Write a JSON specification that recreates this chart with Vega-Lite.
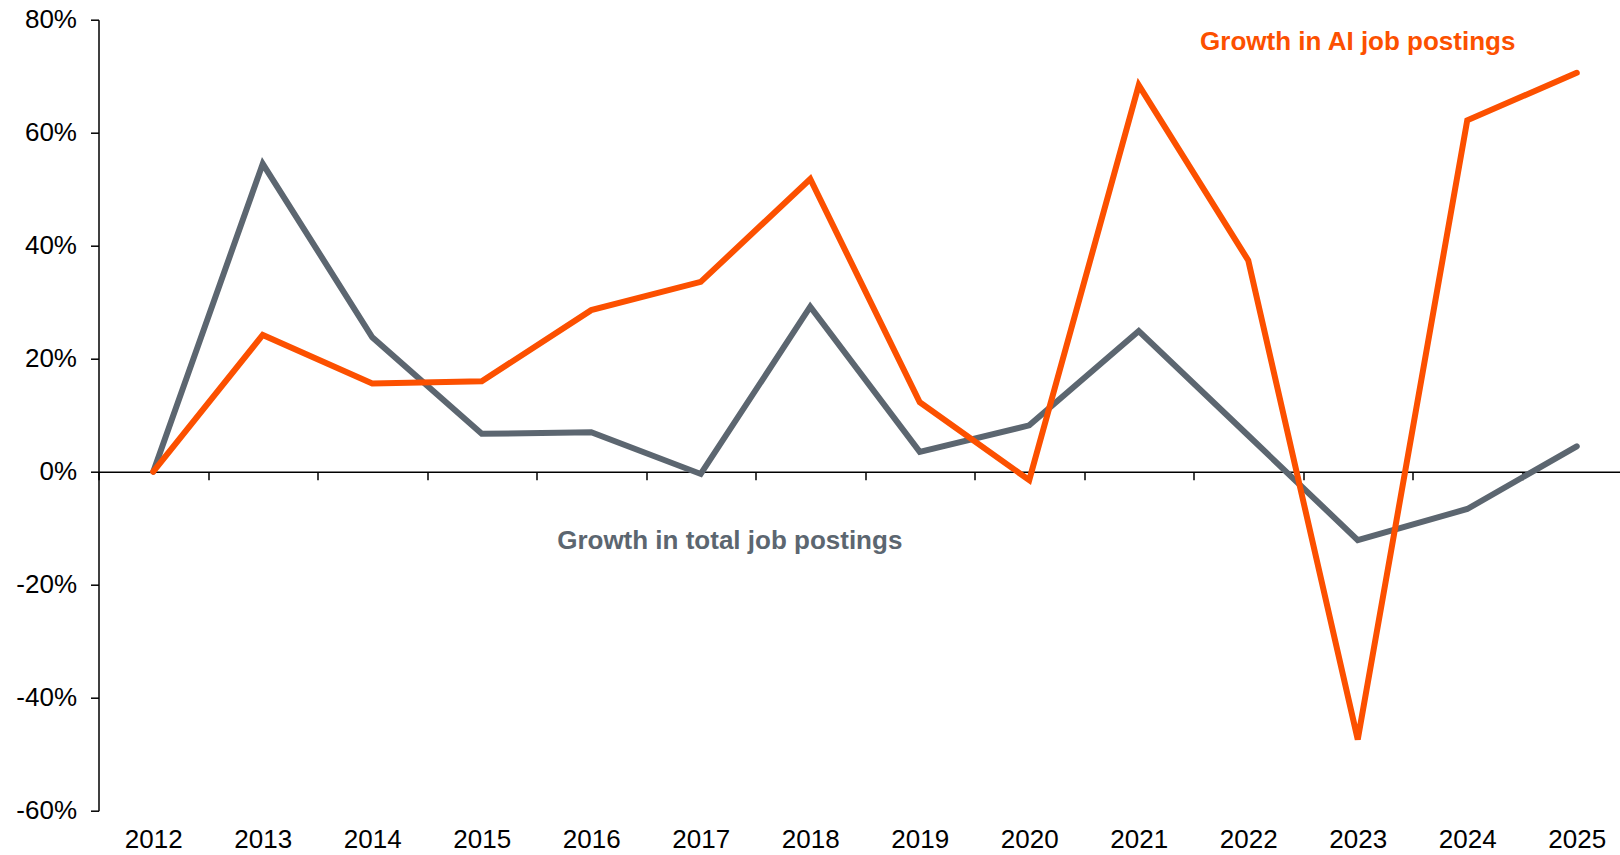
{
  "$schema": "https://vega.github.io/schema/vega-lite/v6.json",
  "width": 1521,
  "height": 791,
  "autosize": {"type": "none"},
  "padding": {"left": 98.5, "top": 19.7, "right": 0, "bottom": 44.3},
  "background": "white",
  "config": {"view": {"stroke": null}, "font": "Liberation Sans"},
  "data": {
    "values": [
      {"year": 2012, "series": "Growth in total job postings", "value": 0},
      {"year": 2013, "series": "Growth in total job postings", "value": 54.5},
      {"year": 2014, "series": "Growth in total job postings", "value": 23.8},
      {"year": 2015, "series": "Growth in total job postings", "value": 6.7},
      {"year": 2016, "series": "Growth in total job postings", "value": 7.0},
      {"year": 2017, "series": "Growth in total job postings", "value": -0.4},
      {"year": 2018, "series": "Growth in total job postings", "value": 29.2},
      {"year": 2019, "series": "Growth in total job postings", "value": 3.5},
      {"year": 2020, "series": "Growth in total job postings", "value": 8.2},
      {"year": 2021, "series": "Growth in total job postings", "value": 24.9},
      {"year": 2022, "series": "Growth in total job postings", "value": 6.4},
      {"year": 2023, "series": "Growth in total job postings", "value": -12.1},
      {"year": 2024, "series": "Growth in total job postings", "value": -6.6},
      {"year": 2025, "series": "Growth in total job postings", "value": 4.5},
      {"year": 2012, "series": "Growth in AI job postings", "value": 0},
      {"year": 2013, "series": "Growth in AI job postings", "value": 24.2},
      {"year": 2014, "series": "Growth in AI job postings", "value": 15.6},
      {"year": 2015, "series": "Growth in AI job postings", "value": 16.0},
      {"year": 2016, "series": "Growth in AI job postings", "value": 28.6},
      {"year": 2017, "series": "Growth in AI job postings", "value": 33.6},
      {"year": 2018, "series": "Growth in AI job postings", "value": 51.8},
      {"year": 2019, "series": "Growth in AI job postings", "value": 12.3},
      {"year": 2020, "series": "Growth in AI job postings", "value": -1.5},
      {"year": 2021, "series": "Growth in AI job postings", "value": 68.4},
      {"year": 2022, "series": "Growth in AI job postings", "value": 37.4},
      {"year": 2023, "series": "Growth in AI job postings", "value": -47.4},
      {"year": 2024, "series": "Growth in AI job postings", "value": 62.2},
      {"year": 2025, "series": "Growth in AI job postings", "value": 70.6}
    ]
  },
  "encoding": {
    "x": {
      "field": "year",
      "type": "ordinal",
      "scale": {"type": "band", "paddingInner": 0, "paddingOuter": 0, "range": [0, 1533]},
      "axis": {
        "orient": "bottom",
        "offset": -339,
        "tickBand": "extent",
        "domainColor": "#000000",
        "domainWidth": 1.5,
        "tickColor": "#000000",
        "tickWidth": 1.5,
        "tickSize": 8,
        "labelPadding": 347,
        "labelFontSize": 26,
        "labelColor": "#000000",
        "labelAngle": 0,
        "title": null,
        "grid": false
      }
    },
    "y": {
      "field": "value",
      "type": "quantitative",
      "scale": {"domain": [-60, 80], "nice": false, "zero": false},
      "axis": {
        "values": [-60, -40, -20, 0, 20, 40, 60, 80],
        "labelExpr": "datum.value + '%'",
        "grid": false,
        "domainColor": "#000000",
        "domainWidth": 1.5,
        "tickColor": "#000000",
        "tickWidth": 1.5,
        "tickSize": 8,
        "labelFontSize": 26,
        "labelColor": "#000000",
        "labelPadding": 14,
        "title": null
      }
    }
  },
  "layer": [
    {
      "transform": [{"filter": "datum.series === 'Growth in total job postings'"}],
      "mark": {"type": "line", "strokeWidth": 6, "strokeCap": "round", "color": "#5C6670"}
    },
    {
      "transform": [{"filter": "datum.series === 'Growth in AI job postings'"}],
      "mark": {"type": "line", "strokeWidth": 6, "strokeCap": "round", "color": "#FC5000"}
    },
    {
      "transform": [{"filter": "datum.series === 'Growth in AI job postings' && datum.year === 2023"}],
      "mark": {"type": "text", "fontSize": 26, "fontWeight": "bold", "color": "#FC5000", "align": "center", "baseline": "middle"},
      "encoding": {
        "x": {"field": "year", "type": "ordinal"},
        "y": {"datum": 76.1},
        "text": {"field": "series"}
      }
    },
    {
      "transform": [{"filter": "datum.series === 'Growth in total job postings' && datum.year === 2017"}],
      "mark": {"type": "text", "fontSize": 26, "fontWeight": "bold", "color": "#5C6670", "align": "center", "baseline": "middle", "dx": 29},
      "encoding": {
        "x": {"field": "year", "type": "ordinal"},
        "y": {"datum": -12.3},
        "text": {"field": "series"}
      }
    }
  ]
}
